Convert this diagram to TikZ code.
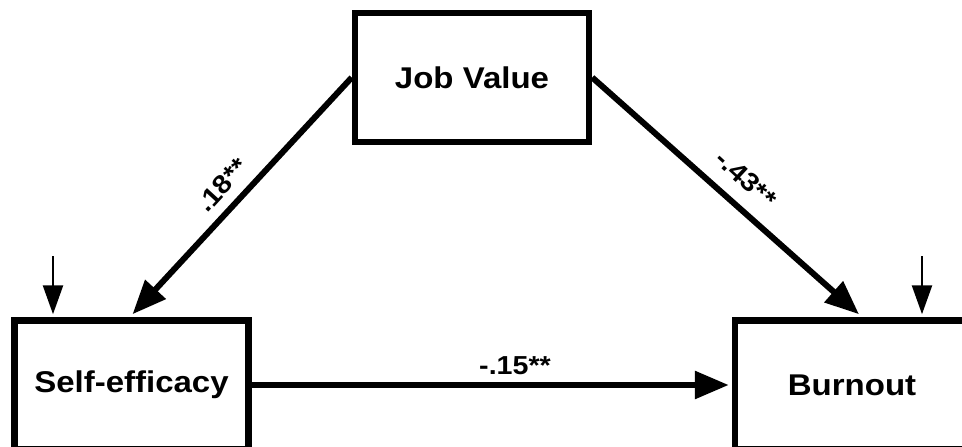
\documentclass[tikz,border=0pt]{standalone}
\usepackage{fontspec}
\usepackage{graphicx}
\setmainfont{Liberation Sans}
\usetikzlibrary{arrows.meta,calc}
\newcommand{\wider}[1]{\scalebox{1.1}[1]{#1}}
\begin{document}
\begin{tikzpicture}[x=1pt,y=-1pt,
  box/.style={draw=black,line width=6.5pt,fill=white,minimum width=234pt,minimum height=129pt,
    inner sep=0pt,font=\fontsize{30}{36}\selectfont\bfseries},
  bigarrow/.style={line width=6pt,-{Triangle[length=34pt,width=27pt]}},
  smallarrow/.style={line width=2.5pt,-{Triangle[length=29pt,width=20pt]}},
  lbl/.style={font=\fontsize{26}{30}\selectfont\bfseries,inner sep=0pt}]
\clip (0,0) rectangle (962,447);
\fill[white] (0,0) rectangle (962,447);
\node[box] (jv) at (472,77.5) {\wider{Job Value}};
\node[box] (se) at (131.5,385) {\wider{Self-efficacy}};
\node[box] (bo) at (852,385) {\wider{Burnout}};
\coordinate (e1) at (53,256);
\coordinate (e2) at (922,256);
\draw[bigarrow] (jv.west) -- ($(se.north)+(1,-3)$);
\draw[bigarrow] (jv.east) -- ($(bo.north)+(7,-3)$);
\draw[bigarrow] (se.east) -- ($(bo.west)+(-3,0)$);
\draw[smallarrow] (e1) -- ($(e1|-se.north)+(0,-3)$);
\draw[smallarrow] (e2) -- ($(e2|-bo.north)+(0,-3)$);
\node[lbl,rotate=47.5] (l1) at (222,185) {\wider{.18**}};
\node[lbl,rotate=-42.8] (l2) at (746,179) {\wider{-.43**}};
\node[lbl] (l3) at (515,366) {\wider{-.15**}};
\end{tikzpicture}
\end{document}
